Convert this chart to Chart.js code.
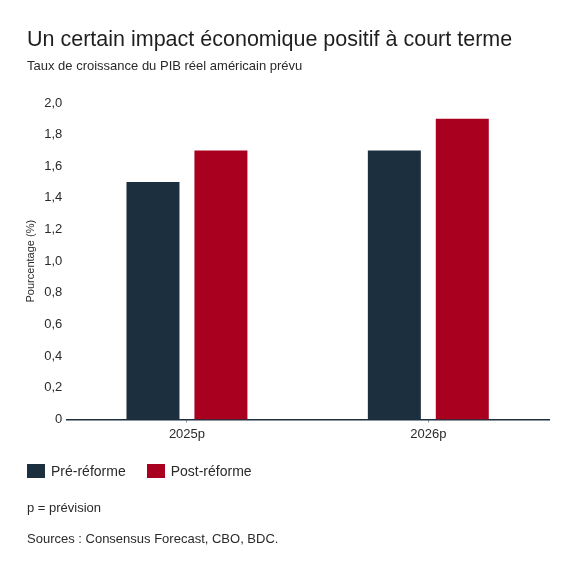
<!DOCTYPE html>
<html lang="fr">
<head>
<meta charset="utf-8">
<script src="https://cdn.jsdelivr.net/npm/chart.js@4.4.1/dist/chart.umd.min.js"></script>
<style>
  body { margin: 0; background: #fff; }
  #wrap { position: relative; width: 575px; height: 575px; font-family: "Liberation Sans", Arial, sans-serif; color: #2a2a2a; }
  #graphique { position: absolute; left: 0; top: 0; }
  .txt { position: absolute; left: 27px; white-space: nowrap; }
  #titre { top: 27px; font-size: 21.5px; color: #1f1f1f; }
  #sous-titre { top: 58px; font-size: 13px; }
  #legende { position: absolute; left: 27px; top: 463px; display: flex; font-size: 14px; }
  #legende .item { display: flex; align-items: center; margin-right: 21px; }
  #legende .boite { width: 18px; height: 14px; margin-right: 6px; }
  .note { font-size: 13px; }
</style>
</head>
<body>
<div id="wrap">
  <canvas id="graphique" width="575" height="575"></canvas>
  <div class="txt" id="titre">Un certain impact économique positif à court terme</div>
  <div class="txt" id="sous-titre">Taux de croissance du PIB réel américain prévu</div>
  <div id="legende"></div>
  <div class="txt note" style="top:500px;">p = prévision</div>
  <div class="txt note" style="top:531px;">Sources : Consensus Forecast, CBO, BDC.</div>
</div>
<script>
const categories = ["2025p", "2026p"];
const preReforme = [1.5, 1.7];
const postReforme = [1.7, 1.9];
const seriesNames = ["Pré-réforme", "Post-réforme"];
const couleurs = ["#1c2f3e", "#a8001e"];

const police = "'Liberation Sans', Arial, sans-serif";
const ctx = document.getElementById("graphique").getContext("2d");

const monGraphique = new Chart(ctx, {
  type: "bar",
  data: {
    labels: categories,
    datasets: [
      {
        label: seriesNames[0],
        data: preReforme,
        backgroundColor: couleurs[0],
        categoryPercentage: 0.563,
        barPercentage: 0.78,
      },
      {
        label: seriesNames[1],
        data: postReforme,
        backgroundColor: couleurs[1],
        categoryPercentage: 0.563,
        barPercentage: 0.78,
      },
    ],
  },
  options: {
    responsive: false,
    animation: false,
    layout: {
      padding: { left: 24, right: 26, top: 103, bottom: 129 },
    },
    scales: {
      x: {
        grid: { display: true, drawOnChartArea: false, offset: false, tickLength: 3, color: "#888" },
        border: { display: true, color: "#1c2f3e", width: 1.5 },
        ticks: { color: "#2a2a2a", padding: 4, font: { family: police, size: 13 } },
      },
      y: {
        min: 0,
        max: 2,
        grid: { display: false, drawTicks: false },
        border: { display: false },
        title: {
          display: true,
          text: "Pourcentage (%)",
          color: "#2a2a2a",
          padding: { top: 0, bottom: 3 },
          font: { family: police, size: 11 },
        },
        ticks: {
          stepSize: 0.2,
          padding: 4,
          color: "#2a2a2a",
          font: { family: police, size: 13 },
          callback: function (value) {
            if (value === 0) return "0";
            return value.toFixed(1).replace(".", ",");
          },
        },
      },
    },
    plugins: {
      legend: { display: false },
      tooltip: { enabled: false },
    },
  },
});

// légende HTML construite à partir des séries du graphique
const legende = document.getElementById("legende");
monGraphique.data.datasets.forEach(function (ds) {
  const item = document.createElement("div");
  item.className = "item";
  const boite = document.createElement("span");
  boite.className = "boite";
  boite.style.background = ds.backgroundColor;
  const texte = document.createElement("span");
  texte.textContent = ds.label;
  item.appendChild(boite);
  item.appendChild(texte);
  legende.appendChild(item);
});
</script>
</body>
</html>
